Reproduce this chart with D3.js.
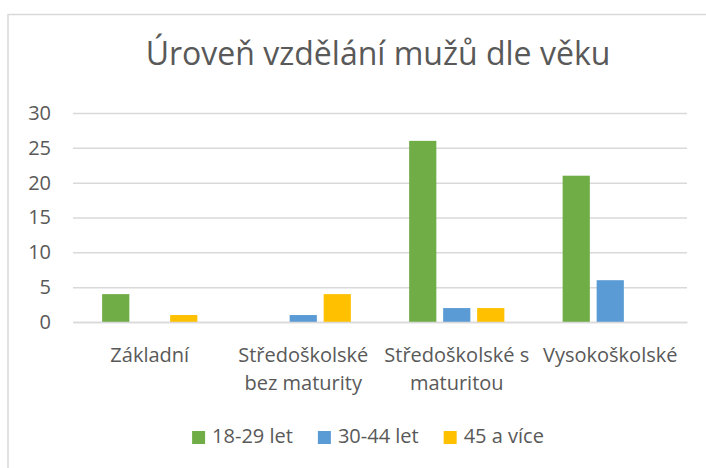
<!DOCTYPE html>
<html>
<head>
<meta charset="utf-8">
<script src="https://cdn.jsdelivr.net/npm/d3@7"></script>
<style>
  body { margin: 0; background: #fff; }
  text { font-family: "Open Sans", sans-serif; fill: #595959; }
</style>
</head>
<body>
<script>
// data
var title = "Úroveň vzdělání mužů dle věku";
var categories = ["Základní", "Středoškolské bez maturity", "Středoškolské s maturitou", "Vysokoškolské"];
var seriesNames = ["18-29 let", "30-44 let", "45 a více"];
var seriesColors = ["#70AD47", "#5B9BD5", "#FFC000"];
var young = [4, 0, 26, 21];
var middle = [0, 1, 2, 6];
var older = [1, 4, 2, 0];
var yTicks = [0, 5, 10, 15, 20, 25, 30];

var values = [young, middle, older];

var W = 706, H = 468;
var plot = { left: 73, right: 687, top: 113, bottom: 322 };
var labelSize = "20px";

var svg = d3.select("body").append("svg")
  .attr("width", W)
  .attr("height", H);

// chart border (runs off the right and bottom edge like the picture)
svg.append("rect")
  .attr("x", 8).attr("y", 14.5)
  .attr("width", 760).attr("height", 520)
  .attr("fill", "#fff")
  .attr("stroke", "#d9d9d9")
  .attr("stroke-width", 1.5);

var t = svg.append("text")
  .attr("x", 378).attr("y", 65)
  .attr("text-anchor", "middle")
  .style("font-size", "32px")
  .text(title);
// scale title to the width it has in the picture
var tw = t.node().getComputedTextLength();
t.style("font-size", (32 * 465 / tw) + "px");

var x0 = d3.scaleBand().domain(categories).range([plot.left, plot.right]);
var x1 = d3.scaleBand().domain(seriesNames).range([0, x0.bandwidth()])
  .paddingInner(0.2).paddingOuter(0.857);
var y = d3.scaleLinear().domain([0, 30]).range([plot.bottom, plot.top]);

// gridlines
var yAxis = d3.axisLeft(y).tickValues(yTicks).tickSize(-(plot.right - plot.left)).tickPadding(22);
var gy = svg.append("g")
  .attr("transform", "translate(" + plot.left + ",0)")
  .call(yAxis);
gy.select(".domain").remove();
gy.selectAll(".tick line").attr("stroke", "#d9d9d9").attr("stroke-width", 1.5);
gy.selectAll(".tick text").style("font-size", labelSize).attr("fill", "#595959");

// bars
var groups = svg.selectAll("g.cat").data(categories).enter().append("g")
  .attr("class", "cat")
  .attr("transform", function(d){ return "translate(" + x0(d) + ",0)"; });

groups.selectAll("rect").data(function(d, i){
    return seriesNames.map(function(s, j){ return { s: s, v: values[j][i], c: seriesColors[j] }; });
  })
  .enter().append("rect")
  .attr("x", function(d){ return x1(d.s); })
  .attr("width", x1.bandwidth())
  .attr("y", function(d){ return y(d.v); })
  .attr("height", function(d){ return y(0) - y(d.v); })
  .attr("fill", function(d){ return d.c; });

// x axis
var xAxis = d3.axisBottom(x0).tickSize(0).tickPadding(0);
var gx = svg.append("g")
  .attr("transform", "translate(0," + plot.bottom + ")")
  .call(xAxis);
gx.select(".domain").attr("stroke", "#d9d9d9").attr("stroke-width", 1.5);
gx.selectAll(".tick text").style("font-size", labelSize).attr("fill", "#595959")
  .attr("dy", null).attr("y", 40)
  .each(function(){ wrap(d3.select(this), 165); });

function wrap(t, width) {
  var words = t.text().split(" "), line = [], lineNo = 0;
  t.text(null);
  var tspan = t.append("tspan").attr("x", 0).attr("y", 40);
  words.forEach(function(w){
    line.push(w);
    tspan.text(line.join(" "));
    if (tspan.node().getComputedTextLength() > width && line.length > 1) {
      line.pop();
      tspan.text(line.join(" "));
      line = [w];
      lineNo++;
      tspan = t.append("tspan").attr("x", 0).attr("y", 40 + lineNo * 28).text(w);
    }
  });
}

// legend
var legend = svg.append("g").attr("transform", "translate(0,443)");
var items = legend.selectAll("g").data(seriesNames).enter().append("g");
items.append("rect")
  .attr("y", -12).attr("width", 13).attr("height", 13)
  .attr("fill", function(d, i){ return seriesColors[i]; });
items.append("text")
  .attr("x", 20)
  .style("font-size", labelSize)
  .text(function(d){ return d; });
var pos = 0, offs = [];
items.each(function(){
  offs.push(pos);
  pos += this.getBBox().width + 25;
});
var total = pos - 25, start = 368 - total / 2;
items.attr("transform", function(d, i){ return "translate(" + (start + offs[i]) + ",0)"; });
</script>
</body>
</html>
